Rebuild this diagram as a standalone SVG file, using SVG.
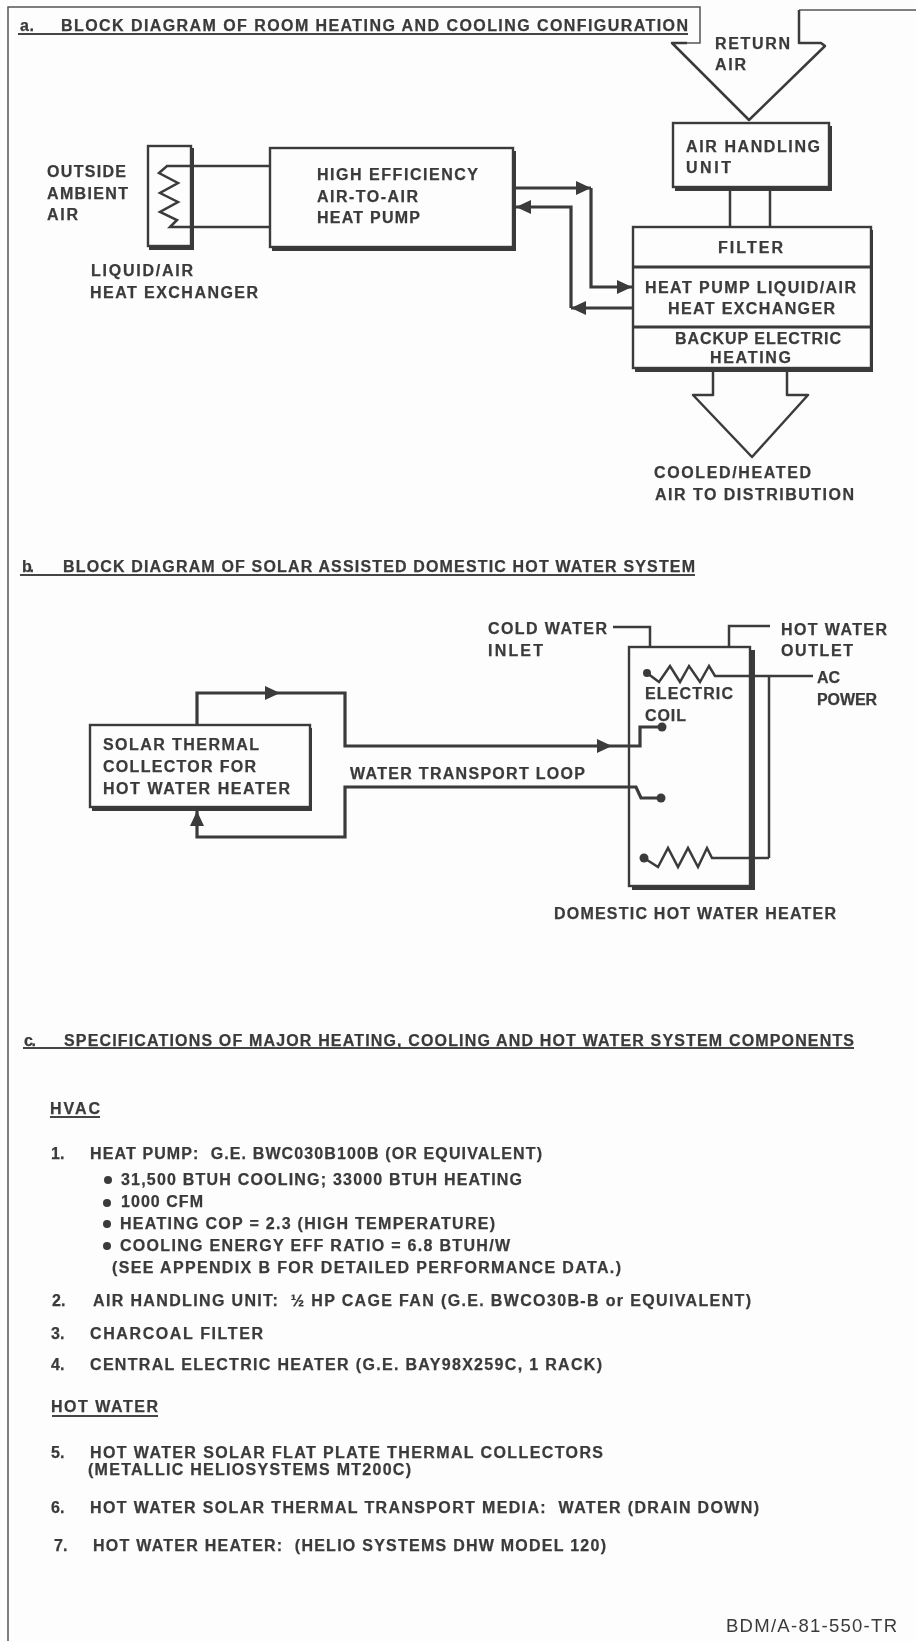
<svg xmlns="http://www.w3.org/2000/svg" width="916" height="1641" viewBox="0 0 916 1641">
<style>
text{font-family:"Liberation Sans",Arial,sans-serif;font-weight:bold;font-size:16px;fill:#3a3a3a;stroke:#3a3a3a;stroke-width:.25px}
.l{fill:none;stroke:#3a3a3a;stroke-width:2.5}
.h{fill:none;stroke:#3a3a3a;stroke-width:3.2}
.t{fill:none;stroke:#444;stroke-width:2}
.f{fill:none;stroke:#555;stroke-width:1.5}
.b{fill:#fdfdfd;stroke:#3a3a3a;stroke-width:2.4}
.s{fill:#3a3a3a;stroke:none}
.d{fill:#3a3a3a}
.r{font-weight:normal;font-size:18.5px;stroke:none}
</style>
<defs>
<filter id="soft" x="0" y="0" width="916" height="1641" filterUnits="userSpaceOnUse"><feGaussianBlur stdDeviation="0.7"/></filter>
<marker id="arr" markerUnits="userSpaceOnUse" markerWidth="18" markerHeight="16" refX="16" refY="8" orient="auto"><path d="M1 1L16 8L1 15Z" fill="#3a3a3a"/></marker>
</defs>
<rect width="916" height="1641" fill="#fdfdfd"/>
<g filter="url(#soft)">
<g id="frame">
<path class="f" d="M8 1641V7H700V43H687"/>
<path class="f" d="M799 10H916"/>
</g>
<g id="titles">
<text x="20" y="31" textLength="14">a.</text>
<text x="61" y="31" textLength="627">BLOCK DIAGRAM OF ROOM HEATING AND COOLING CONFIGURATION</text>
<path class="t" d="M18 34H688"/>
<text x="22" y="572" textLength="12">b.</text>
<text x="63" y="572" textLength="632">BLOCK DIAGRAM OF SOLAR ASSISTED DOMESTIC HOT WATER SYSTEM</text>
<path class="t" d="M20 575H695"/>
<text x="24" y="1046" textLength="12">c.</text>
<text x="64" y="1046" textLength="790">SPECIFICATIONS OF MAJOR HEATING, COOLING AND HOT WATER SYSTEM COMPONENTS</text>
<path class="t" d="M23 1048H854"/>
</g>
<g id="connectors">
<path class="l" d="M167 166H269M170 227H269"/>
<path class="h" d="M513 188H591" marker-end="url(#arr)"/>
<path class="h" d="M591 188V287H632" marker-end="url(#arr)"/>
<path class="h" d="M632 308H571" marker-end="url(#arr)"/>
<path class="h" d="M571 308V207H516" marker-end="url(#arr)"/>
<path class="l" d="M730 187V227M770 187V227"/>
<path class="h" d="M197 725V693H280" marker-end="url(#arr)"/>
<path class="h" d="M280 693H345V746H612" marker-end="url(#arr)"/>
<path class="h" d="M595 787H345V837H197V811" marker-end="url(#arr)"/>
<path class="l" d="M613 627H650V647M770 626H729V647"/>
</g>
<g id="return-air">
<path class="l" d="M687 43H672L749 120L825 46L821 43H799V10" stroke-linejoin="round"/>
<text x="715" y="49" textLength="75">RETURN</text>
<text x="715" y="70" textLength="31">AIR</text>
</g>
<g id="air-handling-unit">
<rect class="s" x="675" y="126" width="157" height="65"/>
<rect class="b" x="673" y="123" width="156" height="64"/>
<text x="686" y="152" textLength="134">AIR HANDLING</text>
<text x="686" y="173" textLength="45">UNIT</text>
</g>
<g id="air-unit">
<rect class="s" x="635" y="230" width="238" height="142"/>
<rect class="b" x="633" y="227" width="238" height="141"/>
<path class="h" d="M633 267H871M633 327H871"/>
<text x="718" y="253" textLength="65">FILTER</text>
<text x="645" y="293" textLength="211">HEAT PUMP LIQUID/AIR</text>
<text x="668" y="314" textLength="167">HEAT EXCHANGER</text>
<text x="675" y="344" textLength="166">BACKUP ELECTRIC</text>
<text x="710" y="363" textLength="81">HEATING</text>
</g>
<g id="supply-air">
<path class="l" d="M713 369V395H693L752 457L808 395H787V369" stroke-linejoin="round"/>
<text x="654" y="478" textLength="157">COOLED/HEATED</text>
<text x="655" y="500" textLength="199">AIR TO DISTRIBUTION</text>
</g>
<g id="heat-exchanger">
<rect class="s" x="149" y="148" width="45" height="102"/>
<rect class="b" x="148" y="146" width="43" height="100"/>
<path class="l" d="M191 166H167L159 173L178 183L160 193L178 202L160 212L177 220L170 227H191"/>
<text x="47" y="177" textLength="79">OUTSIDE</text>
<text x="47" y="199" textLength="81">AMBIENT</text>
<text x="47" y="220" textLength="31">AIR</text>
<text x="91" y="276" textLength="102">LIQUID/AIR</text>
<text x="90" y="298" textLength="168">HEAT EXCHANGER</text>
</g>
<g id="heat-pump">
<rect class="s" x="272" y="151" width="244" height="100"/>
<rect class="b" x="270" y="148" width="243" height="99"/>
<text x="317" y="180" textLength="161">HIGH EFFICIENCY</text>
<text x="317" y="202" textLength="101">AIR-TO-AIR</text>
<text x="317" y="223" textLength="103">HEAT PUMP</text>
</g>
<g id="solar-collector">
<rect class="s" x="92" y="728" width="220" height="83"/>
<rect class="b" x="90" y="725" width="220" height="82"/>
<text x="103" y="750" textLength="156">SOLAR THERMAL</text>
<text x="103" y="772" textLength="153">COLLECTOR FOR</text>
<text x="103" y="794" textLength="187">HOT WATER HEATER</text>
</g>
<text id="loop-label" x="350" y="779" textLength="235">WATER TRANSPORT LOOP</text>
<g id="water-heater">
<rect class="s" x="632" y="650" width="123" height="240"/>
<rect class="b" x="629" y="647" width="121" height="239"/>
<circle class="d" cx="647" cy="673" r="4"/>
<circle class="d" cx="662" cy="727" r="4.5"/>
<circle class="d" cx="661" cy="798" r="4.5"/>
<circle class="d" cx="644" cy="858" r="4.5"/>
<path class="l" d="M647 673L659 682L670 666L680 682L689 666L700 682L709 666L715 676H813M769 676V858M644 858L658 867L668 848L678 867L688 848L698 867L707 848L712 858H769"/>
<path class="h" d="M612 746H640V727H662M595 787H636L641 798H661"/>
<text x="645" y="699" textLength="88">ELECTRIC</text>
<text x="645" y="721" textLength="41">COIL</text>
<text x="488" y="634" textLength="119">COLD WATER</text>
<text x="488" y="656" textLength="55">INLET</text>
<text x="781" y="635" textLength="106">HOT WATER</text>
<text x="781" y="656" textLength="72">OUTLET</text>
<text x="817" y="683" textLength="23">AC</text>
<text x="817" y="705" textLength="60">POWER</text>
<text x="554" y="919" textLength="282">DOMESTIC HOT WATER HEATER</text>
</g>
<g id="specifications">
<text x="50" y="1114" textLength="50">HVAC</text>
<path class="t" d="M50 1117H100"/>
<text x="51" y="1159">1.</text>
<text x="90" y="1159" textLength="452" xml:space="preserve">HEAT PUMP:  G.E. BWC030B100B (OR EQUIVALENT)</text>
<circle class="d" cx="108" cy="1180" r="4"/>
<text x="121" y="1185" textLength="401">31,500 BTUH COOLING; 33000 BTUH HEATING</text>
<circle class="d" cx="107" cy="1203" r="4"/>
<text x="121" y="1207" textLength="82">1000 CFM</text>
<circle class="d" cx="107" cy="1224" r="4"/>
<text x="120" y="1229" textLength="375">HEATING COP = 2.3 (HIGH TEMPERATURE)</text>
<circle class="d" cx="107" cy="1246" r="4"/>
<text x="120" y="1251" textLength="390">COOLING ENERGY EFF RATIO = 6.8 BTUH/W</text>
<text x="112" y="1273" textLength="509">(SEE APPENDIX B FOR DETAILED PERFORMANCE DATA.)</text>
<text x="52" y="1306">2.</text>
<text x="93" y="1306" textLength="658" xml:space="preserve">AIR HANDLING UNIT:  ½ HP CAGE FAN (G.E. BWCO30B-B or EQUIVALENT)</text>
<text x="51" y="1339">3.</text>
<text x="90" y="1339" textLength="173">CHARCOAL FILTER</text>
<text x="51" y="1370">4.</text>
<text x="90" y="1370" textLength="512">CENTRAL ELECTRIC HEATER (G.E. BAY98X259C, 1 RACK)</text>
<text x="51" y="1412" textLength="107">HOT WATER</text>
<path class="t" d="M52 1416H158"/>
<text x="51" y="1458">5.</text>
<text x="90" y="1458" textLength="513">HOT WATER SOLAR FLAT PLATE THERMAL COLLECTORS</text>
<text x="88" y="1475" textLength="323">(METALLIC HELIOSYSTEMS MT200C)</text>
<text x="51" y="1513">6.</text>
<text x="90" y="1513" textLength="669" xml:space="preserve">HOT WATER SOLAR THERMAL TRANSPORT MEDIA:  WATER (DRAIN DOWN)</text>
<text x="54" y="1551">7.</text>
<text x="93" y="1551" textLength="513" xml:space="preserve">HOT WATER HEATER:  (HELIO SYSTEMS DHW MODEL 120)</text>
<text class="r" x="726" y="1632" textLength="171">BDM/A-81-550-TR</text>
</g>
</g>
</svg>
